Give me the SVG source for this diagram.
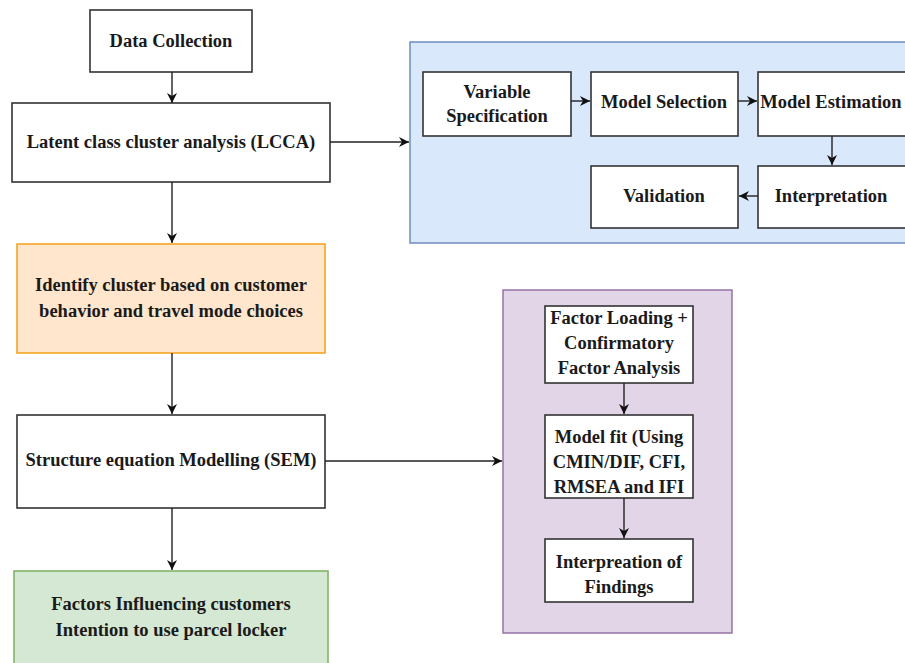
<svg xmlns="http://www.w3.org/2000/svg" width="905" height="663" viewBox="0 0 905 663">
<defs>
<marker id="ah" viewBox="0 0 10 10" refX="10" refY="5" markerWidth="10" markerHeight="10" markerUnits="userSpaceOnUse" orient="auto">
<path d="M0,0 L10,5 L0,10 L3,5 Z" fill="#111"/>
</marker>
<style>
.box{fill:#fff;stroke:#333;stroke-width:1.6}
.t{font-family:'Liberation Serif','Times New Roman',Times,serif;font-weight:bold;font-size:18.5px;fill:#1a1a1a;text-anchor:middle}
.c{fill:none;stroke:#222;stroke-width:1.4;marker-end:url(#ah)}
</style>
</defs>
<rect width="905" height="663" fill="#fff"/>
<g id="container-lcca"><rect x="410" y="42" width="500" height="201" fill="#dae8fc" stroke="#6c8ebf" stroke-width="1.5"/></g>
<g id="container-sem"><rect x="503" y="290" width="229" height="343" fill="#e1d5e7" stroke="#9673a6" stroke-width="1.5"/></g>

<g id="data-collection"><rect class="box" x="90" y="10" width="162" height="62"/><text class="t" x="171" y="47">Data Collection</text></g>
<g id="lcca"><rect class="box" x="12" y="103" width="318" height="79"/><text class="t" x="171" y="148">Latent class cluster analysis (LCCA)</text></g>
<g id="identify"><rect x="17" y="244" width="308" height="109" fill="#ffe6cc" stroke="#f5a623" stroke-width="1.6"/><text class="t" x="171" y="291">Identify cluster based on customer</text><text class="t" x="171" y="317">behavior and travel mode choices</text></g>
<g id="sem"><rect class="box" x="17" y="415" width="308" height="93"/><text class="t" x="171" y="466">Structure equation Modelling (SEM)</text></g>
<g id="factors"><rect x="14" y="571" width="314" height="100" fill="#d5e8d4" stroke="#82b366" stroke-width="1.6"/><text class="t" x="171" y="610">Factors Influencing customers</text><text class="t" x="171" y="636">Intention to use parcel locker</text></g>

<g id="variable-spec"><rect class="box" x="423" y="72" width="148" height="64"/><text class="t" x="497" y="98">Variable</text><text class="t" x="497" y="122">Specification</text></g>
<g id="model-selection"><rect class="box" x="591" y="72" width="147" height="64"/><text class="t" x="664" y="108">Model Selection</text></g>
<g id="model-estimation"><rect class="box" x="758" y="72" width="150" height="64"/><text class="t" x="831" y="108">Model Estimation</text></g>
<g id="validation"><rect class="box" x="591" y="166" width="147" height="62"/><text class="t" x="664" y="202">Validation</text></g>
<g id="interpretation"><rect class="box" x="758" y="166" width="150" height="62"/><text class="t" x="831" y="202">Interpretation</text></g>

<g id="factor-loading"><rect class="box" x="545" y="306" width="148" height="77"/><text class="t" x="619" y="324">Factor Loading +</text><text class="t" x="619" y="349">Confirmatory</text><text class="t" x="619" y="374">Factor Analysis</text></g>
<g id="model-fit"><rect class="box" x="545" y="415" width="148" height="83"/><text class="t" x="619" y="443">Model fit (Using</text><text class="t" x="619" y="468">CMIN/DIF, CFI,</text><text class="t" x="619" y="493">RMSEA and IFI</text></g>
<g id="findings"><rect class="box" x="545" y="539" width="148" height="63"/><text class="t" x="619" y="568">Interpreation of</text><text class="t" x="619" y="593">Findings</text></g>

<g id="connectors">
<line class="c" x1="172" y1="72" x2="172" y2="103"/>
<line class="c" x1="330" y1="142" x2="409" y2="142"/>
<line class="c" x1="172" y1="182" x2="172" y2="243"/>
<line class="c" x1="172" y1="353" x2="172" y2="414"/>
<line class="c" x1="325" y1="461" x2="502" y2="461"/>
<line class="c" x1="172" y1="508" x2="172" y2="570"/>
<line class="c" x1="571" y1="101" x2="590" y2="101"/>
<line class="c" x1="738" y1="101" x2="757" y2="101"/>
<line class="c" x1="832" y1="136" x2="832" y2="165"/>
<line class="c" x1="758" y1="196" x2="739" y2="196"/>
<line class="c" x1="624" y1="383" x2="624" y2="414"/>
<line class="c" x1="624" y1="498" x2="624" y2="538"/>
</g>
</svg>
